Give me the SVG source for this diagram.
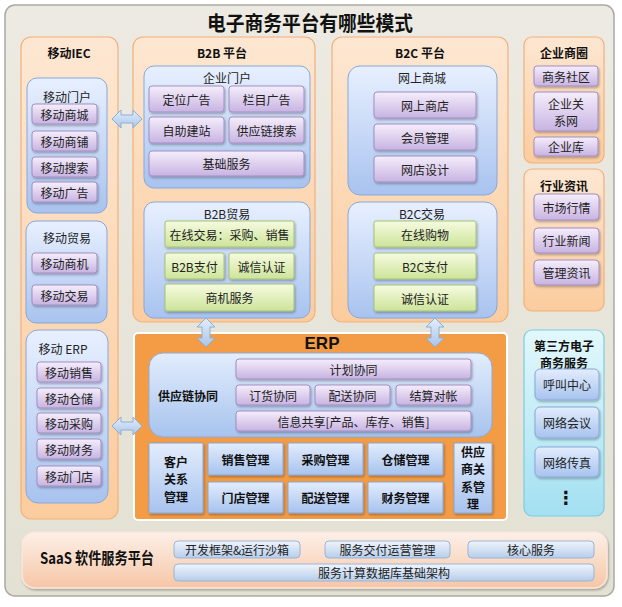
<svg xmlns="http://www.w3.org/2000/svg" width="622" height="607" viewBox="0 0 622 607">
<defs>
<linearGradient id="gOuter" x1="0" y1="0" x2="0" y2="1"><stop offset="0" stop-color="#eceae2"/><stop offset="1" stop-color="#e3e1d3"/></linearGradient>
<linearGradient id="gOrange" x1="0" y1="0" x2="0" y2="1"><stop offset="0" stop-color="#fde7d2"/><stop offset="1" stop-color="#fbcc9e"/></linearGradient>
<linearGradient id="gBlue" x1="0" y1="0" x2="0" y2="1"><stop offset="0" stop-color="#e8f0ff"/><stop offset="1" stop-color="#a8c3ef"/></linearGradient>
<linearGradient id="gPurple" x1="0" y1="0" x2="0" y2="1"><stop offset="0" stop-color="#f5eefb"/><stop offset="1" stop-color="#c8b3e2"/></linearGradient>
<linearGradient id="gGreen" x1="0" y1="0" x2="0" y2="1"><stop offset="0" stop-color="#f6fbe0"/><stop offset="1" stop-color="#cde49a"/></linearGradient>
<linearGradient id="gCyan" x1="0" y1="0" x2="0" y2="1"><stop offset="0" stop-color="#e2f8fc"/><stop offset="1" stop-color="#a3e0f1"/></linearGradient>
<linearGradient id="gErpBlue" x1="0" y1="0" x2="0" y2="1"><stop offset="0" stop-color="#e3edfd"/><stop offset="1" stop-color="#a7c3ee"/></linearGradient>
<linearGradient id="gSaaS" x1="0" y1="0" x2="0" y2="1"><stop offset="0" stop-color="#fdf0e8"/><stop offset="1" stop-color="#f6c6a6"/></linearGradient>
<linearGradient id="gSaaSItem" x1="0" y1="0" x2="0" y2="1"><stop offset="0" stop-color="#f0f5fc"/><stop offset="1" stop-color="#b6cdea"/></linearGradient>
<linearGradient id="gArrow" x1="0" y1="0" x2="0" y2="1"><stop offset="0" stop-color="#e4eefb"/><stop offset="1" stop-color="#a9c5ea"/></linearGradient>
<filter id="sh" x="-10%" y="-10%" width="130%" height="140%"><feDropShadow dx="1" dy="1.5" stdDeviation="0.8" flood-color="#000" flood-opacity="0.3"/></filter>
</defs>
<style>
.t{font-family:"Noto Sans CJK SC","Liberation Sans",sans-serif;font-size:12px;fill:#222;text-anchor:middle;dominant-baseline:central}
.b{font-weight:bold;fill:#111}
.org{fill:url(#gOrange);stroke:#f3b07a;stroke-width:1.2}
.blu{fill:url(#gBlue);stroke:#87a7db;stroke-width:1}
.pur{fill:url(#gPurple);stroke:#a28ec2;stroke-width:1;filter:url(#sh)}
.grn{fill:url(#gGreen);stroke:#a6c274;stroke-width:1;filter:url(#sh)}
.cyn{fill:url(#gCyan);stroke:#7ccbe2;stroke-width:1.2}
.ebl{fill:url(#gErpBlue);stroke:#88a7d8;stroke-width:1;filter:url(#sh)}
.sit{fill:url(#gSaaSItem);stroke:#9cb4d6;stroke-width:1}
.arr{fill:url(#gArrow);stroke:#8caed8;stroke-width:1}
</style>

<g id="background">
<rect x="5" y="5" width="609" height="591" rx="10" fill="url(#gOuter)" stroke="#aaa9a3" stroke-width="1.5"/>
<text class="t b" x="310" y="22" style="font-size:20px" textLength="206" lengthAdjust="spacingAndGlyphs">电子商务平台有哪些模式</text>
</g>

<g id="mobile-iec">
<rect class="org" x="21" y="37" width="97" height="482" rx="10"/>
<text class="t b" x="69" y="52">移动IEC</text>
</g>
<g id="mobile-portal">
<rect class="blu" x="27" y="78" width="80" height="135" rx="10"/>
<text class="t" x="67" y="96">移动门户</text>
<rect class="pur" x="32" y="104" width="65" height="20" rx="3"/><text class="t" x="64.5" y="114">移动商城</text>
<rect class="pur" x="32" y="131" width="65" height="20" rx="3"/><text class="t" x="64.5" y="141">移动商铺</text>
<rect class="pur" x="32" y="157" width="65" height="20" rx="3"/><text class="t" x="64.5" y="167">移动搜索</text>
<rect class="pur" x="32" y="182" width="65" height="20" rx="3"/><text class="t" x="64.5" y="192">移动广告</text>
</g>
<g id="mobile-trade">
<rect class="blu" x="26" y="221" width="81" height="102" rx="10"/>
<text class="t" x="67" y="237">移动贸易</text>
<rect class="pur" x="32" y="253" width="65" height="20" rx="3"/><text class="t" x="64.5" y="263">移动商机</text>
<rect class="pur" x="32" y="285" width="65" height="20" rx="3"/><text class="t" x="64.5" y="295">移动交易</text>
</g>
<g id="mobile-erp">
<rect class="blu" x="26" y="330" width="82" height="173" rx="12"/>
<text class="t" x="63" y="348">移动 ERP</text>
<rect class="pur" x="37" y="362" width="64" height="20" rx="3"/><text class="t" x="69" y="372">移动销售</text>
<rect class="pur" x="37" y="388" width="64" height="20" rx="3"/><text class="t" x="69" y="398">移动仓储</text>
<rect class="pur" x="37" y="413" width="64" height="20" rx="3"/><text class="t" x="69" y="423">移动采购</text>
<rect class="pur" x="37" y="439" width="64" height="20" rx="3"/><text class="t" x="69" y="449">移动财务</text>
<rect class="pur" x="37" y="466" width="64" height="20" rx="3"/><text class="t" x="69" y="476">移动门店</text>
</g>

<g id="b2b">
<rect class="org" x="133" y="37" width="182" height="285" rx="10"/>
<text class="t b" x="222" y="52">B2B 平台</text>
</g>
<g id="enterprise-portal">
<rect class="blu" x="144" y="66" width="166" height="122" rx="10"/>
<text class="t" x="227" y="77">企业门户</text>
<rect class="pur" x="149" y="86" width="75" height="26" rx="3"/><text class="t" x="186.5" y="99">定位广告</text>
<rect class="pur" x="229" y="86" width="75" height="26" rx="3"/><text class="t" x="266.5" y="99">栏目广告</text>
<rect class="pur" x="149" y="117" width="75" height="26" rx="3"/><text class="t" x="186.5" y="130">自助建站</text>
<rect class="pur" x="229" y="117" width="75" height="26" rx="3"/><text class="t" x="266.5" y="130">供应链搜索</text>
<rect class="pur" x="149" y="151" width="155" height="25" rx="3"/><text class="t" x="226.5" y="163.5">基础服务</text>
</g>
<g id="b2b-trade">
<rect class="blu" x="144" y="202" width="166" height="116" rx="10"/>
<text class="t" x="227" y="213">B2B贸易</text>
<rect class="grn" x="165" y="221" width="129" height="26" rx="2"/><text class="t" x="229.5" y="234">在线交易：采购、销售</text>
<rect class="grn" x="165" y="253" width="59" height="26" rx="2"/><text class="t" x="194.5" y="266">B2B支付</text>
<rect class="grn" x="229" y="253" width="65" height="26" rx="2"/><text class="t" x="261.5" y="266">诚信认证</text>
<rect class="grn" x="165" y="284" width="129" height="27" rx="2"/><text class="t" x="229.5" y="297.5">商机服务</text>
</g>

<g id="b2c">
<rect class="org" x="332" y="37" width="176" height="285" rx="10"/>
<text class="t b" x="420" y="52">B2C 平台</text>
</g>
<g id="online-mall">
<rect class="blu" x="348" y="66" width="149" height="129" rx="12"/>
<text class="t" x="422" y="77">网上商城</text>
<rect class="pur" x="374" y="92" width="102" height="26" rx="3"/><text class="t" x="425" y="105">网上商店</text>
<rect class="pur" x="374" y="124" width="102" height="26" rx="3"/><text class="t" x="425" y="137">会员管理</text>
<rect class="pur" x="374" y="156" width="102" height="26" rx="3"/><text class="t" x="425" y="169">网店设计</text>
</g>
<g id="b2c-trade">
<rect class="blu" x="348" y="202" width="149" height="116" rx="12"/>
<text class="t" x="422" y="213">B2C交易</text>
<rect class="grn" x="374" y="221" width="102" height="26" rx="2"/><text class="t" x="425" y="234">在线购物</text>
<rect class="grn" x="374" y="253" width="102" height="26" rx="2"/><text class="t" x="425" y="266">B2C支付</text>
<rect class="grn" x="374" y="285" width="102" height="26" rx="2"/><text class="t" x="425" y="298">诚信认证</text>
</g>

<g id="business-circle">
<rect class="org" x="524" y="37" width="80" height="126" rx="8"/>
<text class="t b" x="564" y="52">企业商圈</text>
<rect class="pur" x="534" y="66" width="64" height="20" rx="3"/><text class="t" x="566" y="76">商务社区</text>
<rect class="pur" x="534" y="92" width="64" height="39" rx="3"/><text class="t" x="566" y="103">企业关</text><text class="t" x="566" y="120">系网</text>
<rect class="pur" x="534" y="137" width="64" height="19" rx="3"/><text class="t" x="566" y="146.5">企业库</text>
</g>
<g id="industry-info">
<rect class="org" x="524" y="169" width="80" height="142" rx="8"/>
<text class="t b" x="564" y="185">行业资讯</text>
<rect class="pur" x="534" y="194" width="65" height="26" rx="4"/><text class="t" x="566.5" y="207">市场行情</text>
<rect class="pur" x="534" y="228" width="65" height="25" rx="4"/><text class="t" x="566.5" y="240.5">行业新闻</text>
<rect class="pur" x="534" y="260" width="65" height="25" rx="4"/><text class="t" x="566.5" y="272.5">管理资讯</text>
</g>
<g id="third-party">
<rect class="cyn" x="524" y="330" width="80" height="186" rx="8"/>
<text class="t b" x="564" y="345">第三方电子</text>
<text class="t b" x="564" y="362">商务服务</text>
<rect class="ebl" x="535" y="369" width="64" height="31" rx="5"/><text class="t" x="567" y="384.5">呼叫中心</text>
<rect class="ebl" x="535" y="407" width="64" height="31" rx="5"/><text class="t" x="567" y="422.5">网络会议</text>
<rect class="ebl" x="535" y="447" width="64" height="30" rx="5"/><text class="t" x="567" y="462">网络传真</text>
<text class="t b" x="566" y="497" style="font-family:'DejaVu Sans',sans-serif;font-size:18px">⋮</text>
</g>

<g id="erp">
<rect x="134" y="333" width="373" height="187" rx="4" fill="#f39b45" stroke="#ffffff" stroke-width="2"/>
<text class="t b" x="322" y="343" style="font-family:'Liberation Sans',sans-serif;font-size:17px">ERP</text>
</g>
<g id="supply-chain">
<rect x="149" y="353" width="343" height="84" rx="14" fill="url(#gErpBlue)" stroke="#8eaad8" stroke-width="1"/>
<text class="t b" x="188" y="395">供应链协同</text>
<rect class="pur" x="236" y="359" width="235" height="20" rx="3"/><text class="t" x="353.5" y="369">计划协同</text>
<rect class="pur" x="236" y="385" width="74" height="20" rx="3"/><text class="t" x="273" y="395">订货协同</text>
<rect class="pur" x="315" y="385" width="75" height="20" rx="3"/><text class="t" x="352.5" y="395">配送协同</text>
<rect class="pur" x="396" y="385" width="75" height="20" rx="3"/><text class="t" x="433.5" y="395">结算对帐</text>
<rect class="pur" x="236" y="411" width="235" height="20" rx="3"/><text class="t" x="353.5" y="421">信息共享[产品、库存、销售]</text>
</g>
<g id="erp-modules">
<rect class="ebl" x="149" y="443" width="54" height="70" rx="1"/>
<text class="t b" x="176" y="461">客户</text><text class="t b" x="176" y="478.5">关系</text><text class="t b" x="176" y="496">管理</text>
<rect class="ebl" x="208" y="443" width="75" height="32" rx="1"/><text class="t b" x="245.5" y="459">销售管理</text>
<rect class="ebl" x="208" y="482" width="75" height="31" rx="1"/><text class="t b" x="245.5" y="497.5">门店管理</text>
<rect class="ebl" x="288" y="443" width="75" height="32" rx="1"/><text class="t b" x="325.5" y="459">采购管理</text>
<rect class="ebl" x="288" y="482" width="75" height="31" rx="1"/><text class="t b" x="325.5" y="497.5">配送管理</text>
<rect class="ebl" x="368" y="443" width="75" height="32" rx="1"/><text class="t b" x="405.5" y="459">仓储管理</text>
<rect class="ebl" x="368" y="482" width="75" height="31" rx="1"/><text class="t b" x="405.5" y="497.5">财务管理</text>
<rect class="ebl" x="454" y="443" width="38" height="70" rx="1"/>
<text class="t b" x="473" y="451">供应</text><text class="t b" x="473" y="468.5">商关</text><text class="t b" x="473" y="486">系管</text><text class="t b" x="473" y="503.5">理</text>
</g>

<g id="saas">
<rect x="22" y="532" width="585" height="56" rx="13" fill="url(#gSaaS)" stroke="#fbe6da" stroke-width="1.5" filter="url(#sh)"/>
<text class="t b" x="97" y="557" style="font-size:16px" textLength="114" lengthAdjust="spacingAndGlyphs">SaaS 软件服务平台</text>
<rect class="sit" x="174" y="541" width="126" height="17" rx="4"/><text class="t" x="237" y="549.5">开发框架&amp;运行沙箱</text>
<rect class="sit" x="325" y="541" width="125" height="17" rx="4"/><text class="t" x="387.5" y="549.5">服务交付运营管理</text>
<rect class="sit" x="468" y="541" width="126" height="17" rx="4"/><text class="t" x="531" y="549.5">核心服务</text>
<rect class="sit" x="174" y="564" width="420" height="17" rx="4"/><text class="t" x="384" y="572.5">服务计算数据库基础架构</text>
</g>

<g id="connectors">
<polygon class="arr" points="112,119 121,110 121,115 133,115 133,110 142,119 133,128 133,123 121,123 121,128"/>
<polygon class="arr" points="112,426 121,417 121,422 133,422 133,417 142,426 133,435 133,430 121,430 121,435"/>
<polygon class="arr" points="206,318 215,327 210,327 210,338 215,338 206,347 197,338 202,338 202,327 197,327"/>
<polygon class="arr" points="435,318 444,327 439,327 439,338 444,338 435,347 426,338 431,338 431,327 426,327"/>
</g>
</svg>
